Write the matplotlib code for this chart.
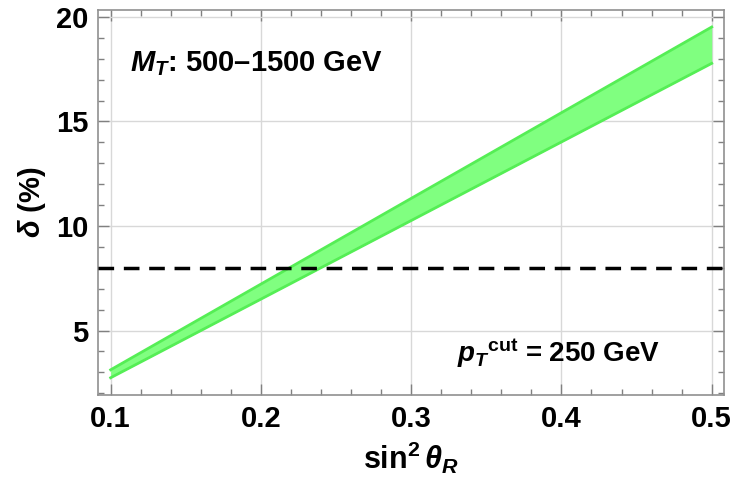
import numpy as np
import matplotlib
matplotlib.use("Agg")
import matplotlib.pyplot as plt
from matplotlib.ticker import MultipleLocator

plt.rcParams['font.family'] = ['Liberation Sans', 'DejaVu Sans']
plt.rcParams['font.weight'] = 'bold'
plt.rcParams['axes.labelweight'] = 'bold'
plt.rcParams['mathtext.fontset'] = 'custom'
plt.rcParams['mathtext.rm'] = 'Liberation Sans:bold'
plt.rcParams['mathtext.it'] = 'Liberation Sans:bold:italic'
plt.rcParams['mathtext.bf'] = 'Liberation Sans:bold'

# band of delta (%) vs sin^2 theta_R
sin2 = [0.1, 0.2, 0.3, 0.4, 0.5]
delta_low = [2.74, 6.50, 10.26, 14.02, 17.78]
delta_high = [3.12, 7.22, 11.32, 15.42, 19.52]
delta_cut = 8.0

fig = plt.figure(figsize=(7.37, 4.93), dpi=100)
ax = fig.add_axes([0.133, 0.199, 0.849, 0.781])

ax.fill_between(sin2, delta_low, delta_high, color='#80ff80', lw=0, zorder=2)
ax.plot(sin2, delta_low, color='#55ee55', lw=2, zorder=3)
ax.plot(sin2, delta_high, color='#55ee55', lw=2, zorder=3)
ax.axhline(delta_cut, color='black', lw=2.5, dashes=(4.5, 2.8), zorder=4)

ax.set_xlim(0.0916, 0.508)
ax.set_ylim(1.92, 20.34)
ax.xaxis.set_major_locator(MultipleLocator(0.1))
ax.xaxis.set_minor_locator(MultipleLocator(0.02))
ax.yaxis.set_major_locator(MultipleLocator(5))
ax.yaxis.set_minor_locator(MultipleLocator(1))
ax.grid(True, which='major', color='#d8d8d8', lw=1, zorder=0)

ax.tick_params(which='both', direction='in', top=True, right=True,
               color='#808080', labelsize=21, pad=7)
ax.tick_params(which='major', length=8, width=1)
ax.tick_params(which='minor', length=4, width=1)
ax.xaxis.set_major_formatter(matplotlib.ticker.FormatStrFormatter('%.1f'))
for s in ax.spines.values():
    s.set_color('#909090')
    s.set_linewidth(1.2)

ax.set_xlabel(r'sin$^{2}$$\,\theta_R$', fontsize=22, fontweight='bold', labelpad=5)
ax.set_ylabel(r'$\delta$ (%)', fontsize=21, fontweight='bold', labelpad=6)

ax.text(0.113, 17.75, r'$M_T$: 500–1500 GeV', fontsize=21, va='center', ha='left')
ax.text(0.398, 3.9, r'$p_T$$^{\mathrm{cut}}$ = 250 GeV', fontsize=20, va='center', ha='center')

fig.savefig('out.png', dpi=100)
